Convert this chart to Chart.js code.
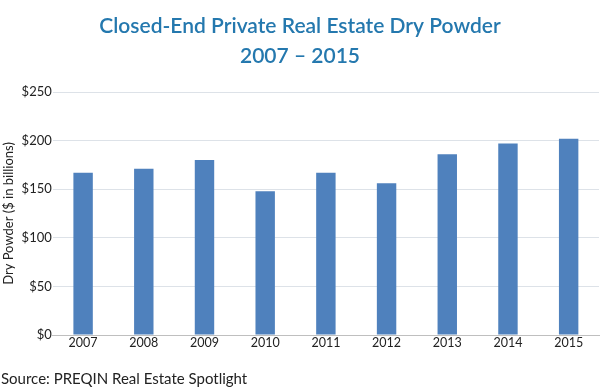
<!DOCTYPE html>
<html>
<head>
<meta charset="utf-8">
<script src="https://cdn.jsdelivr.net/npm/chart.js@4"></script>
<style>
  html, body { margin: 0; padding: 0; background: #fff; }
  #wrap { width: 602px; height: 392px; }
</style>
</head>
<body>
<div id="wrap"><canvas id="dryPowderChart"></canvas></div>
<script>
// Chart data
const years = ['2007', '2008', '2009', '2010', '2011', '2012', '2013', '2014', '2015'];
const dryPowder = [167, 171, 180, 148, 167, 156, 186, 197, 202];
const titleLines = ['Closed-End Private Real Estate Dry Powder', '2007 \u2013 2015'];
const sourceText = 'Source: PREQIN Real Estate Spotlight';
const yAxisTitle = 'Dry Powder ($ in billions)';

const FONT = 'Lato, "Open Sans", sans-serif';

// Two-line title, centred on the page
const pageTitle = {
    id: 'pageTitle',
    afterDraw(chart) {
        const c = chart.ctx;
        c.save();
        c.fillStyle = '#2478ae';
        c.font = '600 21px ' + FONT;
        c.textAlign = 'center';
        c.textBaseline = 'alphabetic';
        c.fillText(titleLines[0], 300, 33);
        c.fillText(titleLines[1], 300, 63);
        c.restore();
    }
};

const ctx = document.getElementById('dryPowderChart');
new Chart(ctx, {
    type: 'bar',
    data: {
        labels: years,
        datasets: [{
            label: 'Dry Powder',
            data: dryPowder,
            backgroundColor: '#4f81bd',
            barPercentage: 0.32,
            categoryPercentage: 1.0
        }]
    },
    options: {
        responsive: true,
        maintainAspectRatio: false,
        animation: false,
        layout: {
            padding: { left: 1, right: 3, top: 92, bottom: 4 }
        },
        plugins: {
            legend: { display: false },
            tooltip: { enabled: false },
            title: { display: false },
            subtitle: {
                display: true,
                position: 'bottom',
                align: 'start',
                text: sourceText,
                color: '#222',
                font: { size: 15, family: FONT },
                padding: { top: 20, bottom: 0 }
            }
        },
        scales: {
            x: {
                grid: { display: false, drawTicks: false, tickLength: 0 },
                border: { display: true, color: '#bfbfbf' },
                ticks: {
                    color: '#222',
                    font: { size: 12.5, family: FONT },
                    padding: 0
                }
            },
            y: {
                min: 0,
                max: 250,
                z: 1,
                border: { display: false },
                grid: { color: '#dde2e8', drawTicks: false },
                ticks: {
                    stepSize: 50,
                    color: '#222',
                    padding: 1,
                    font: { size: 13, family: FONT },
                    callback: v => '$' + v
                },
                title: {
                    display: true,
                    text: yAxisTitle,
                    color: '#222',
                    font: { size: 13, family: FONT },
                    padding: { top: 0, bottom: 4 }
                }
            }
        }
    },
    plugins: [pageTitle]
});
</script>
</body>
</html>
